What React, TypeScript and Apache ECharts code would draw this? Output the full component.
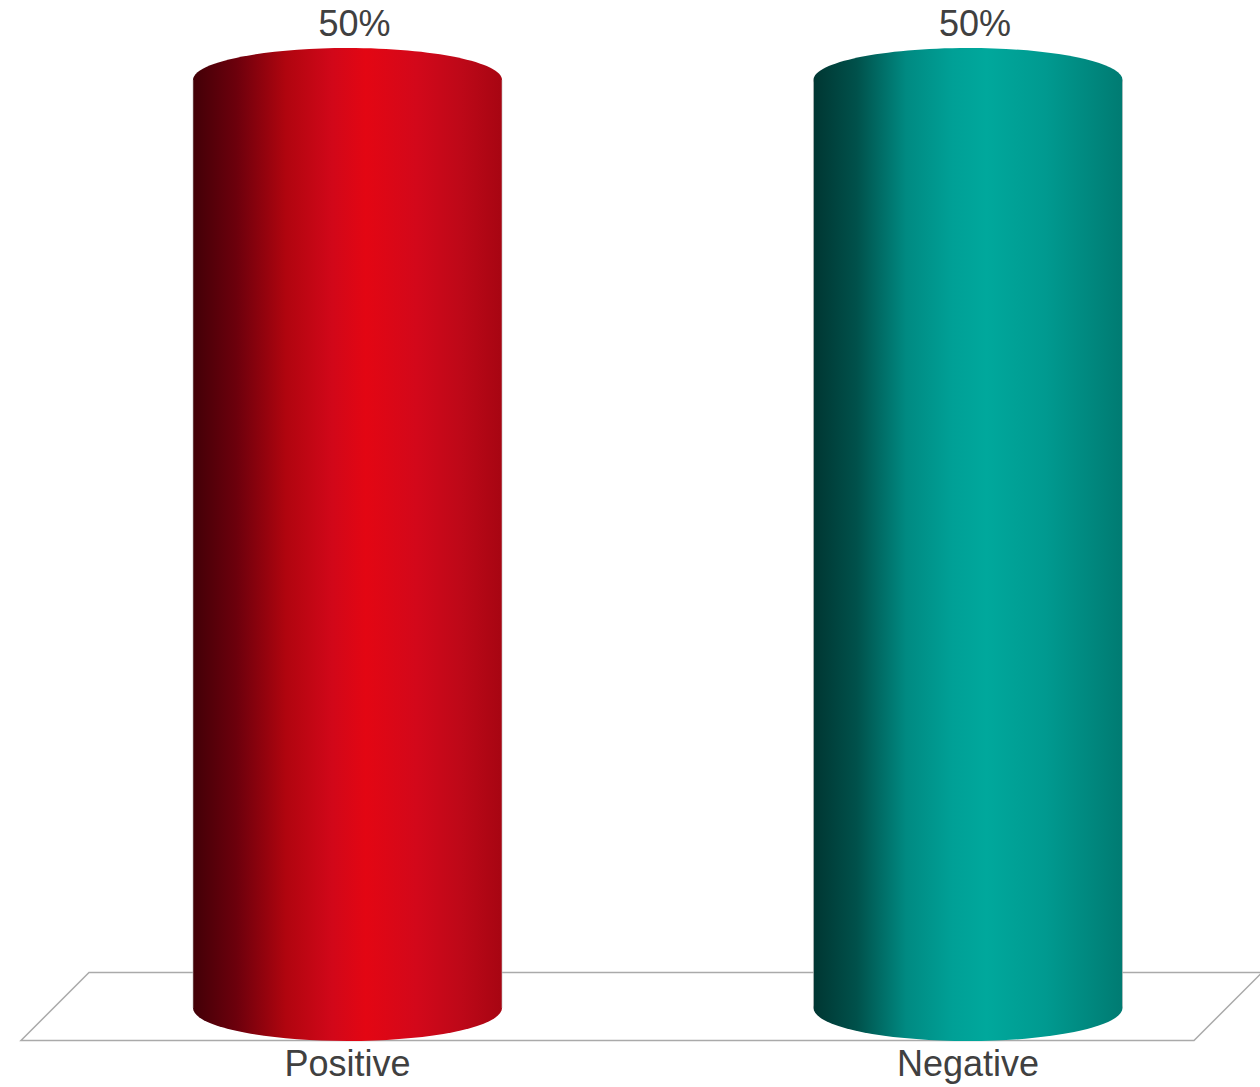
import React, { useEffect, useRef } from "react";
import * as echarts from "echarts";

const categories = ["Positive", "Negative"];
const values = [50, 50];
const valueLabels = ["50%", "50%"];

const gradients = [
  [
    [0, "#420007"],
    [0.14, "#6c000c"],
    [0.3, "#b0050f"],
    [0.45, "#d10719"],
    [0.56, "#e30613"],
    [0.72, "#d3081a"],
    [0.87, "#bd0818"],
    [1, "#a70512"],
  ],
  [
    [0, "#003632"],
    [0.14, "#00514b"],
    [0.3, "#008a82"],
    [0.45, "#00a096"],
    [0.56, "#00a89c"],
    [0.75, "#009a90"],
    [1, "#007b72"],
  ],
];

export default function App() {
  const ref = useRef<HTMLDivElement>(null);
  useEffect(() => {
    const chart = echarts.init(ref.current!, null, { renderer: "svg" });
    const font = "'Liberation Sans', Arial, sans-serif";
    chart.setOption({
      animation: false,
      backgroundColor: "#ffffff",
      grid: { left: 347.5, top: 80, width: 620.5, bottom: 79 },
      xAxis: {
        type: "category",
        data: categories,
        boundaryGap: false,
        axisLine: { show: false },
        axisTick: { show: false },
        splitLine: { show: false },
        axisLabel: {
          fontSize: 36,
          color: "#404040",
          fontFamily: font,
          margin: 37,
        },
      },
      yAxis: {
        type: "value",
        min: 0,
        max: 50,
        show: false,
        splitLine: { show: false },
      },
      graphic: [
        {
          type: "polygon",
          z: -10,
          shape: {
            points: [
              [89, 972.5],
              [1262, 972.5],
              [1194, 1040.5],
              [21, 1040.5],
            ],
          },
          style: { fill: "none", stroke: "#aaaaaa", lineWidth: 1.5 },
        },
      ],
      series: [
        {
          type: "custom",
          clip: false,
          data: values.map((v, i) => [i, v]),
          encode: { x: 0, y: 1 },
          renderItem: (params: any, api: any) => {
            const idx = api.value(0);
            const val = api.value(1);
            const top = api.coord([idx, val]);
            const bot = api.coord([idx, 0]);
            const band = api.size([1, 0])[0];
            const w = band * 0.498;
            const rx = w / 2;
            const cx = top[0];
            const ryTop = 32;
            const ryBot = 33;
            const stops = gradients[params.dataIndex].map((s: any) => ({
              offset: s[0],
              color: s[1],
            }));
            const fill = () => new echarts.graphic.LinearGradient(0, 0, 1, 0, stops);
            return {
              type: "group",
              children: [
                {
                  type: "ellipse",
                  shape: { cx, cy: bot[1], rx, ry: ryBot },
                  style: { fill: fill() },
                },
                {
                  type: "rect",
                  shape: { x: cx - rx, y: top[1], width: w, height: bot[1] - top[1] },
                  style: { fill: fill() },
                },
                {
                  type: "ellipse",
                  shape: { cx, cy: top[1], rx, ry: ryTop },
                  style: { fill: fill() },
                },
                {
                  type: "line",
                  shape: { x1: cx - rx, y1: top[1], x2: cx - rx, y2: bot[1] },
                  style: { stroke: "rgba(190,190,190,0.6)", lineWidth: 1 },
                },
                {
                  type: "line",
                  shape: { x1: cx + rx, y1: top[1], x2: cx + rx, y2: bot[1] },
                  style: { stroke: "rgba(190,190,190,0.6)", lineWidth: 1 },
                },
                {
                  type: "text",
                  x: cx + 7,
                  y: top[1] - 57,
                  style: {
                    text: valueLabels[params.dataIndex],
                    fontSize: 36,
                    fontFamily: font,
                    fill: "#404040",
                    align: "center",
                    verticalAlign: "middle",
                  },
                },
              ],
            };
          },
        },
      ],
    });
    return () => chart.dispose();
  }, []);
  return <div ref={ref} style={{ width: 1260, height: 1087, position: "absolute", left: 0, top: 0 }} />;
}
